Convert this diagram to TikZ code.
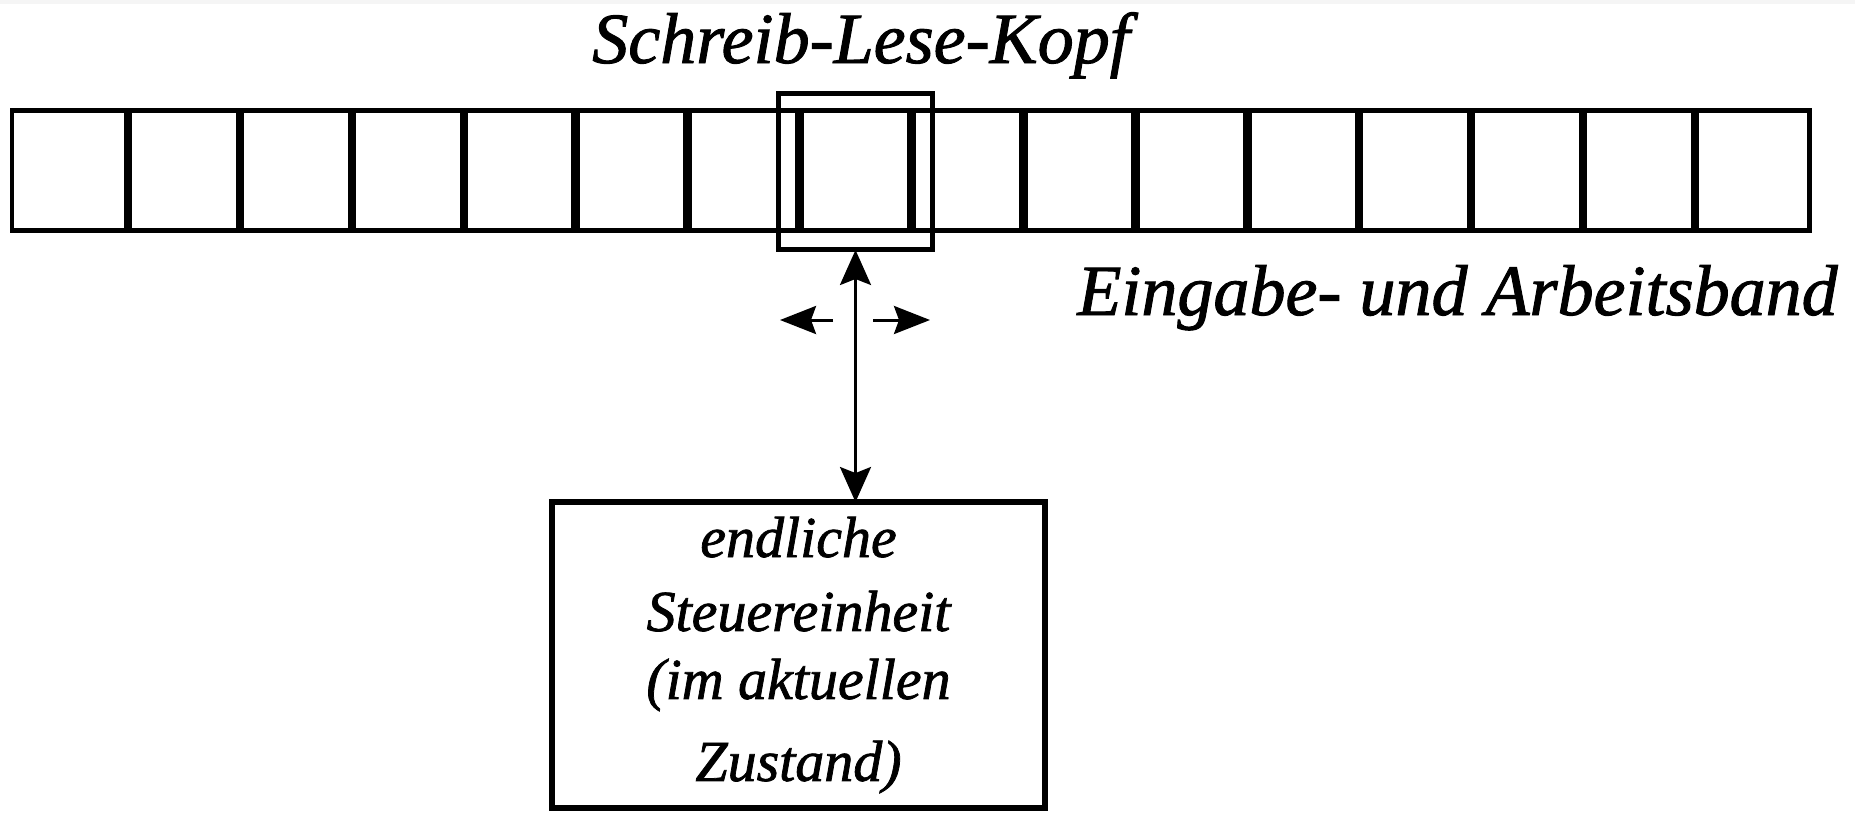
\documentclass[tikz,border=0pt]{standalone}
\usepackage{fontspec}
\setmainfont{Liberation Serif}[ItalicFeatures={FakeBold=1.3}]
\usetikzlibrary{arrows.meta}
\begin{document}
\begin{tikzpicture}[x=0.02cm,y=-0.02cm,
  tapeline/.style={line width=0.1cm},
  divider/.style={line width=0.17cm},
  headbox/.style={draw,line width=0.1cm,minimum width=3.1cm,minimum height=3.14cm,
    inner sep=0pt,outer sep=0pt},
  ctrlbox/.style={draw,line width=0.12cm,minimum width=9.86cm,minimum height=6.12cm,
    inner sep=0pt,outer sep=0pt,align=center,
    font=\fontsize{33}{42.1}\selectfont\itshape},
  label/.style={font=\fontsize{41}{48}\selectfont\itshape,inner sep=0pt},
  connector/.style={line width=0.06cm},
  bigtip/.style={{Stealth[length=0.7cm,width=0.62cm,inset=0.12cm]}-{Stealth[length=0.7cm,width=0.62cm,inset=0.12cm]}},
  smalltip/.style={-{Stealth[length=0.72cm,width=0.56cm,inset=0.1cm]}}]
\useasboundingbox (0,0) rectangle (1855,812);
\fill[white] (0,0) rectangle (1855,812);
\fill[black!4] (0,0) rectangle (1855,4);

% tape with its cells
\draw[tapeline] (12,110) rectangle (1809,230);
\foreach \k in {0,...,14}
  \draw[divider] ({128+111.93*\k},110) -- ({128+111.93*\k},230);

% read/write head and control unit
\node[headbox] (head) at (855.5,171.5) {};
\node[ctrlbox] (ctrl) at (798.5,655)
  {endliche\\Steuereinheit\\[-0.12cm](im aktuellen\\[0.16cm]Zustand)};

% labels
\node[label,anchor=base] (headlabel) at (861,63) {Schreib-Lese-Kopf};
\node[label,anchor=base east] (tapelabel) at (1838,315) {Eingabe- und Arbeitsband};

% head <-> control unit
\draw[connector,bigtip] (head.south) -- (head.south |- ctrl.north);

% head movement arrows
\coordinate (lfrom) at (833,320);
\coordinate (lto) at (780,320);
\coordinate (rfrom) at (873,320);
\coordinate (rto) at (930,320);
\draw[connector,smalltip] (lfrom) -- (lto);
\draw[connector,smalltip] (rfrom) -- (rto);
\end{tikzpicture}
\end{document}
